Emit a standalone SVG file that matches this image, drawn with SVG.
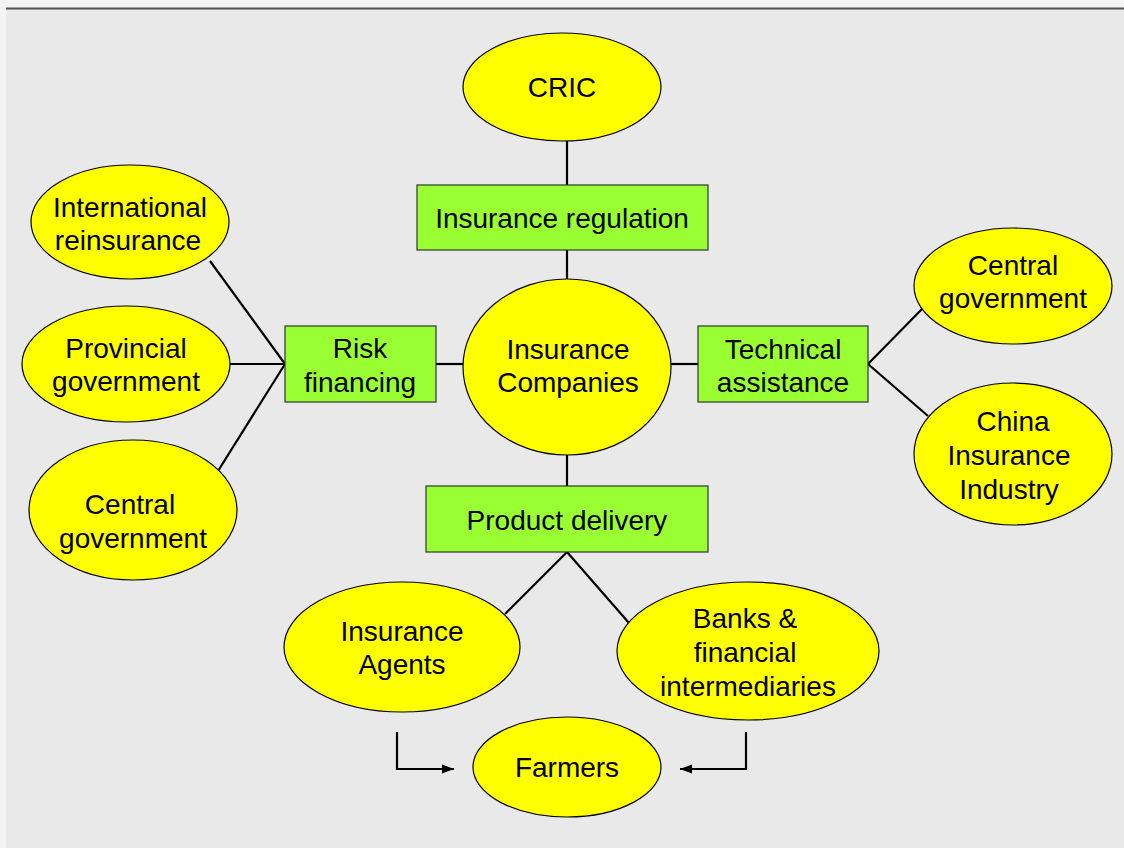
<svg xmlns="http://www.w3.org/2000/svg" width="1124" height="848" viewBox="0 0 1124 848">
<defs>
<style>
.ell{fill:#ffff00;stroke:#000;stroke-width:1.2}
.box{fill:#99ff33;stroke:#333;stroke-width:1.2}
.t{font-family:"Liberation Sans",Arial,sans-serif;font-size:28px;fill:#000;text-anchor:middle}
.c{stroke:#000;stroke-width:2.2;fill:none}
</style>
<marker id="ah" viewBox="0 0 12 10" refX="12" refY="5" markerWidth="12" markerHeight="10" markerUnits="userSpaceOnUse" orient="auto">
<path d="M0,0.5 L12,5 L0,9.5 z" fill="#000"/>
</marker>
</defs>
<rect x="0" y="0" width="1124" height="848" fill="#f4f4f4"/>
<rect x="6" y="9" width="1118" height="839" fill="#e9e9e9"/>
<line x1="6" y1="8.5" x2="1124" y2="8.5" stroke="#555" stroke-width="2"/>

<g id="connectors">
<line class="c" x1="567" y1="140" x2="567" y2="185"/>
<line class="c" x1="567" y1="250" x2="567" y2="280"/>
<line class="c" x1="567" y1="454" x2="567" y2="486"/>
<line class="c" x1="436" y1="364" x2="463" y2="364"/>
<line class="c" x1="671" y1="364" x2="698" y2="364"/>
<line class="c" x1="285" y1="364" x2="210" y2="261"/>
<line class="c" x1="285" y1="364" x2="230" y2="364"/>
<line class="c" x1="285" y1="364" x2="213" y2="479"/>
<line class="c" x1="868" y1="364" x2="923" y2="308"/>
<line class="c" x1="868" y1="364" x2="928" y2="416"/>
<line class="c" x1="567" y1="552" x2="505" y2="614"/>
<line class="c" x1="567" y1="552" x2="629" y2="623"/>
<path class="c" d="M397,732 L397,769 L454,769" marker-end="url(#ah)"/>
<path class="c" d="M746,732 L746,769 L680,769" marker-end="url(#ah)"/>
</g>

<g id="cric"><ellipse class="ell" cx="562" cy="87" rx="99" ry="54"/><text class="t" x="562" y="97">CRIC</text></g>
<g id="insurance-regulation"><rect class="box" x="417" y="185" width="291" height="65"/><text class="t" x="562" y="228">Insurance regulation</text></g>
<g id="insurance-companies"><ellipse class="ell" cx="567" cy="367" rx="104" ry="88"/><text class="t" x="568" y="359">Insurance</text><text class="t" x="568" y="392">Companies</text></g>
<g id="risk-financing"><rect class="box" x="285" y="326" width="151" height="76"/><text class="t" x="360" y="358">Risk</text><text class="t" x="360" y="392">financing</text></g>
<g id="technical-assistance"><rect class="box" x="698" y="326" width="170" height="76"/><text class="t" x="783" y="359">Technical</text><text class="t" x="783" y="392">assistance</text></g>
<g id="central-government-right"><ellipse class="ell" cx="1013" cy="286" rx="99" ry="58"/><text class="t" x="1013" y="275">Central</text><text class="t" x="1013" y="308">government</text></g>
<g id="china-insurance-industry"><ellipse class="ell" cx="1013" cy="454" rx="99" ry="71"/><text class="t" x="1013" y="431">China</text><text class="t" x="1009" y="465">Insurance</text><text class="t" x="1009" y="499">Industry</text></g>
<g id="international-reinsurance"><ellipse class="ell" cx="130" cy="222" rx="99" ry="57"/><text class="t" x="130" y="217">International</text><text class="t" x="128" y="250">reinsurance</text></g>
<g id="provincial-government"><ellipse class="ell" cx="126" cy="364" rx="104" ry="58"/><text class="t" x="126" y="358">Provincial</text><text class="t" x="126" y="391">government</text></g>
<g id="central-government-left"><ellipse class="ell" cx="133" cy="510" rx="104" ry="70"/><text class="t" x="130" y="514">Central</text><text class="t" x="133" y="548">government</text></g>
<g id="product-delivery"><rect class="box" x="426" y="486" width="282" height="66"/><text class="t" x="567" y="530">Product delivery</text></g>
<g id="insurance-agents"><ellipse class="ell" cx="402" cy="647" rx="118" ry="65"/><text class="t" x="402" y="641">Insurance</text><text class="t" x="402" y="674">Agents</text></g>
<g id="banks"><ellipse class="ell" cx="748" cy="651" rx="131" ry="69"/><text class="t" x="745" y="628">Banks &amp;</text><text class="t" x="745" y="662">financial</text><text class="t" x="748" y="696">intermediaries</text></g>
<g id="farmers"><ellipse class="ell" cx="567" cy="767" rx="94" ry="50"/><text class="t" x="567" y="777">Farmers</text></g>
</svg>
